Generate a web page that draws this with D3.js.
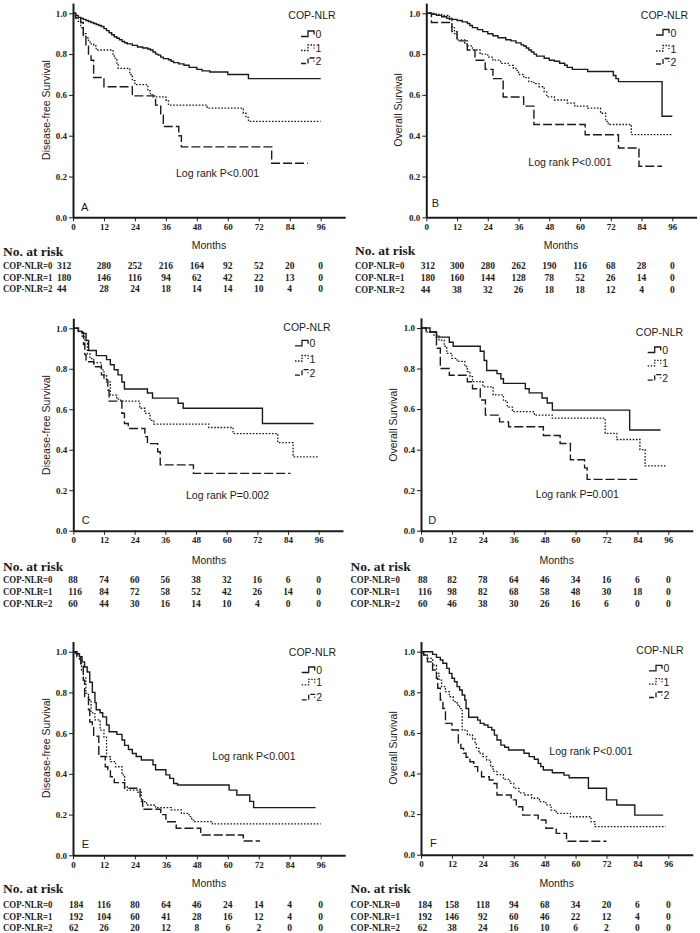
<!DOCTYPE html>
<html><head><meta charset="utf-8">
<script src="https://cdn.jsdelivr.net/npm/d3@7"></script>
<style>body{margin:0;background:#fff}svg{display:block}</style>
</head><body>
<svg id="chart" width="700" height="933"></svg>
<script>
// ---------- data ----------
const monthTicks = [0,12,24,36,48,60,72,84,96];
const survTicks = [0,0.2,0.4,0.6,0.8,1.0];
const groupLabels = ["0","1","2"];
const riskRowLabels = ["COP-NLR=0","COP-NLR=1","COP-NLR=2"];
const panelLetters = ["A","B","C","D","E","F"];
const yTitles = ["Disease-free Survival","Overall Survival","Disease-free Survival","Overall Survival","Disease-free Survival","Overall Survival"];
const pTexts = ["Log rank P<0.001","Log rank P<0.001","Log rank P=0.002","Log rank P=0.001","Log rank P<0.001","Log rank P<0.001"];

// Kaplan-Meier steps: [month, survival]
const survA0 = [[0,1],[1,0.99],[2,0.98],[3,0.975],[4,0.97],[5,0.965],[6,0.96],[7,0.955],[8,0.95],[9,0.945],[10,0.94],[11,0.935],[12,0.925],[13,0.915],[14,0.905],[15,0.895],[16,0.885],[17,0.878],[18,0.87],[19,0.862],[20,0.856],[21,0.85],[23,0.843],[25,0.835],[27,0.83],[29,0.825],[30,0.82],[31,0.81],[32,0.8],[33,0.795],[34,0.785],[35,0.778],[37,0.772],[38,0.765],[39,0.758],[41,0.752],[43,0.745],[45,0.735],[48,0.725],[50,0.718],[53,0.712],[60,0.7],[68,0.68],[96,0.68]];
const survA1 = [[0,1],[1,0.98],[2,0.96],[3,0.93],[4,0.9],[5,0.88],[6,0.86],[7,0.85],[8,0.84],[9,0.82],[15.5,0.8],[16,0.78],[17,0.75],[17.5,0.73],[22,0.7],[23,0.67],[24,0.65],[29,0.62],[30,0.6],[31,0.59],[36,0.575],[37,0.55],[52,0.535],[66,0.51],[67,0.49],[68,0.47],[96,0.47]];
const survA2 = [[0,1],[1,0.977],[3,0.955],[4,0.89],[5,0.84],[6,0.8],[7,0.77],[8,0.685],[12,0.64],[23,0.595],[32,0.55],[34,0.5],[35,0.445],[41,0.4],[42,0.345],[77,0.265],[91,0.265]];

const survB0 = [[0,1],[2,0.995],[4,0.99],[6,0.983],[8,0.975],[10,0.97],[12,0.965],[14,0.958],[16,0.95],[17,0.94],[18,0.93],[20,0.92],[22,0.91],[24,0.9],[26,0.89],[28,0.88],[31,0.87],[33,0.865],[35,0.855],[37,0.845],[38,0.84],[39,0.83],[40,0.82],[41,0.81],[42,0.8],[43,0.79],[46,0.78],[48,0.77],[50,0.765],[52,0.755],[54,0.745],[55,0.735],[57,0.725],[63,0.715],[73,0.695],[74,0.68],[75,0.665],[92,0.495],[96,0.495]];
const survB1 = [[0,1],[3,0.995],[6,0.99],[9,0.97],[10,0.93],[11,0.9],[12,0.87],[15,0.85],[16,0.84],[18,0.82],[21,0.8],[24,0.785],[26,0.77],[29,0.755],[32,0.745],[34,0.73],[35,0.72],[36,0.7],[38,0.685],[40,0.665],[42,0.655],[44,0.64],[46,0.615],[47,0.59],[50,0.575],[55,0.56],[58,0.545],[63,0.535],[68,0.51],[70,0.47],[71,0.455],[80,0.405],[96,0.405]];
const survB2 = [[0,1],[2,0.955],[10,0.91],[12,0.865],[16,0.82],[19,0.77],[23,0.725],[26,0.68],[30,0.59],[38,0.545],[42,0.455],[62,0.405],[75,0.34],[83,0.25],[92,0.25]];

const survC0 = [[0,1],[2,0.985],[3.5,0.975],[5,0.94],[6,0.89],[9,0.865],[13,0.845],[14.5,0.82],[16,0.795],[17.5,0.77],[19,0.735],[20,0.7],[29,0.68],[31,0.655],[41,0.63],[43,0.605],[74,0.53],[94,0.53]];
const survC1 = [[0,1],[2,0.985],[3.5,0.96],[4.5,0.925],[5.5,0.875],[6.5,0.85],[8,0.83],[11,0.795],[12,0.77],[13,0.735],[14.5,0.67],[17,0.65],[18.5,0.64],[26,0.605],[28,0.58],[30,0.545],[31.5,0.527],[53,0.51],[62.5,0.48],[80,0.435],[86,0.365],[96,0.365]];
const survC2 = [[0,1],[2,0.98],[4,0.92],[4.5,0.87],[5,0.835],[8,0.81],[11,0.77],[12,0.745],[13.5,0.695],[14,0.64],[19,0.58],[20,0.53],[21.5,0.505],[28,0.465],[29,0.43],[33,0.39],[34,0.325],[47,0.283],[85,0.283]];

const survD0 = [[0,1],[3.5,0.98],[6,0.955],[11,0.93],[12.5,0.91],[23,0.885],[24.5,0.84],[25.5,0.79],[29.5,0.775],[31,0.75],[32,0.727],[40.5,0.7],[42,0.68],[47,0.655],[49,0.63],[51,0.595],[81,0.497],[93,0.497]];
const survD1 = [[0,1],[2,0.98],[5,0.965],[7,0.94],[9,0.91],[10,0.875],[12,0.85],[14,0.835],[17,0.81],[18,0.785],[19,0.76],[20,0.735],[24,0.71],[28,0.67],[32,0.64],[33.5,0.61],[35.5,0.587],[44,0.57],[51,0.555],[71.5,0.48],[76,0.45],[85,0.4],[87,0.32],[95,0.32]];
const survD2 = [[0,1],[2,0.98],[6,0.9],[7.5,0.8],[11,0.767],[18,0.735],[20,0.7],[23,0.645],[25,0.57],[30.5,0.537],[34,0.513],[47.5,0.47],[54,0.43],[58,0.35],[63.5,0.31],[64.5,0.253],[84,0.253]];

const survE0 = [[0,1],[1.5,0.99],[2.5,0.975],[3.5,0.95],[4.5,0.925],[5.5,0.9],[6.5,0.85],[7.5,0.8],[8.5,0.75],[9,0.715],[10.5,0.7],[11.5,0.68],[13,0.64],[14,0.607],[17,0.594],[19,0.566],[20,0.54],[21.5,0.52],[23,0.5],[24.5,0.485],[26.5,0.468],[31,0.445],[32,0.42],[36,0.395],[37.5,0.378],[39,0.353],[40.5,0.345],[60.5,0.32],[63.5,0.296],[68.5,0.265],[70,0.234],[94,0.234]];
const survE1 = [[0,1],[1,0.985],[2.5,0.96],[3.3,0.91],[4,0.87],[5,0.795],[6,0.764],[7,0.7],[8.5,0.665],[10.5,0.615],[12,0.58],[13,0.485],[14.5,0.46],[16.5,0.435],[19,0.395],[20,0.337],[21,0.32],[25,0.31],[26.5,0.264],[28.5,0.247],[32,0.234],[38,0.223],[42,0.206],[45,0.19],[46,0.173],[47,0.165],[54,0.154],[96,0.154]];
const survE2 = [[0,1],[1.5,0.975],[3,0.94],[4,0.86],[4.5,0.78],[6,0.715],[6.5,0.655],[7.5,0.63],[8,0.585],[10,0.485],[12.5,0.435],[13.5,0.42],[14.5,0.386],[16,0.357],[20,0.329],[26,0.272],[27,0.226],[34,0.2],[36,0.165],[40,0.133],[49.5,0.1],[66,0.07],[72.5,0.07]];

const survF0 = [[0,1],[4.5,0.987],[6,0.972],[7.5,0.959],[8.5,0.943],[10,0.918],[11,0.893],[12,0.869],[13,0.852],[14,0.828],[15,0.811],[16,0.787],[17,0.762],[17.5,0.72],[18.5,0.677],[22,0.663],[23,0.647],[24.5,0.639],[26,0.627],[27.5,0.614],[28.5,0.589],[29.5,0.565],[31,0.54],[32.5,0.529],[34,0.516],[40,0.5],[42,0.483],[44,0.47],[45.5,0.45],[46.5,0.434],[47.5,0.417],[51,0.404],[55.5,0.392],[57.5,0.379],[65,0.327],[72,0.27],[76,0.245],[83,0.195],[94,0.195]];
const survF1 = [[0,1],[1,0.984],[2.5,0.967],[4.5,0.934],[6,0.893],[7,0.86],[8,0.828],[9.5,0.803],[11,0.778],[12.5,0.754],[14,0.737],[15,0.72],[16,0.614],[18,0.59],[20,0.57],[21,0.548],[21.5,0.524],[22.5,0.5],[24,0.483],[25.5,0.466],[27,0.434],[28,0.41],[29.5,0.394],[32,0.371],[34.5,0.351],[36,0.327],[38,0.305],[40,0.294],[43,0.278],[46,0.261],[48.5,0.245],[50.5,0.22],[52.5,0.204],[58,0.187],[66,0.163],[67.5,0.138],[95,0.138]];
const survF2 = [[0,1],[1,0.984],[2.5,0.95],[4.5,0.91],[6,0.869],[6.5,0.82],[7.5,0.762],[8.5,0.72],[9.5,0.647],[12,0.614],[14.5,0.55],[15.5,0.524],[16.5,0.5],[17.5,0.48],[19,0.458],[20.5,0.434],[22,0.41],[23.5,0.384],[26.5,0.368],[28,0.351],[29.5,0.294],[35,0.27],[37,0.236],[39.5,0.195],[45.5,0.171],[48.5,0.13],[52.5,0.105],[56.5,0.066],[72,0.066]];

// numbers at risk
const riskA0 = [312,280,252,216,164,92,52,20,0];
const riskA1 = [180,146,116,94,62,42,22,13,0];
const riskA2 = [44,28,24,18,14,14,10,4,0];
const riskB0 = [312,300,280,262,190,116,68,28,0];
const riskB1 = [180,160,144,128,78,52,26,14,0];
const riskB2 = [44,38,32,26,18,18,12,4,0];
const riskC0 = [88,74,60,56,38,32,16,6,0];
const riskC1 = [116,84,72,58,52,42,26,14,0];
const riskC2 = [60,44,30,16,14,10,4,0,0];
const riskD0 = [88,82,78,64,46,34,16,6,0];
const riskD1 = [116,98,82,68,58,48,30,18,0];
const riskD2 = [60,46,38,30,26,16,6,0,0];
const riskE0 = [184,116,80,64,46,24,14,4,0];
const riskE1 = [192,104,60,41,28,16,12,4,0];
const riskE2 = [62,26,20,12,8,6,2,0,0];
const riskF0 = [184,158,118,94,68,34,20,6,0];
const riskF1 = [192,146,92,60,46,22,12,4,0];
const riskF2 = [62,38,24,16,10,6,2,0,0];

// ---------- layout (positions only) ----------
const layouts = [
  {x0:73,  x96:320.7, y1:13.3,  y0:217.3, leg:{cx:312,  hy:15,    sx:301,   ly:[34,48,61]},
   p:{x:176,y:177}, let:{x:81,y:211}, yt:{x:45.7,y:110}, mon:{x:209,y:249},
   rk:{lx:3, fx:57, ty:255.5, ry:[269,280.5,292]}},
  {x0:426.3,x96:672.3,y1:13.3, y0:217.3, leg:{cx:664.5,hy:15,   sx:656,   ly:[32.5,48.5,61.5]},
   p:{x:528.3,y:165.5}, let:{x:431.7,y:206.5}, yt:{x:398,y:110}, mon:{x:561,y:249},
   rk:{lx:355, fx:420.7, ty:254.5, ry:[269.3,280.7,292.7]}},
  {x0:73.3,x96:318.7, y1:328.3, y0:530.7, leg:{cx:307,  hy:326.7, sx:295,   ly:[343.3,358.5,372.7]},
   p:{x:186,y:499}, let:{x:81.7,y:523.5}, yt:{x:45.7,y:425}, mon:{x:209,y:564},
   rk:{lx:3, fx:68.3, ty:571.3, ry:[583.3,595,607.3]}},
  {x0:421, x96:668.3, y1:328,   y0:530.7, leg:{cx:659.5,hy:331.7, sx:647.7, ly:[350,363.3,377.7]},
   p:{x:535.7,y:498}, let:{x:428.3,y:523.5}, yt:{x:392.7,y:425}, mon:{x:556.7,y:564},
   rk:{lx:350.5, fx:418, ty:571.3, ry:[583.3,595,607.3]}},
  {x0:73,  x96:320.7, y1:651.7, y0:855.3, leg:{cx:312.5,hy:651.7, sx:301.7, ly:[670,682.3,697.3]},
   p:{x:212.3,y:760}, let:{x:81.7,y:847.5}, yt:{x:45.7,y:748}, mon:{x:209,y:887},
   rk:{lx:3, fx:69, ty:893.3, ry:[908.3,919.7,931.3]}},
  {x0:421, x96:668.3, y1:651.7, y0:854.7, leg:{cx:660,  hy:650,   sx:649,   ly:[668.3,681.7,695]},
   p:{x:549.3,y:754.7}, let:{x:430,y:846.5}, yt:{x:392.7,y:748}, mon:{x:556.7,y:887},
   rk:{lx:350.5, fx:417.7, ty:893.3, ry:[908.3,919.7,931.3]}}
];

const curves = [
  [survA0,survA1,survA2],[survB0,survB1,survB2],[survC0,survC1,survC2],
  [survD0,survD1,survD2],[survE0,survE1,survE2],[survF0,survF1,survF2]
];
const risks = [
  [riskA0,riskA1,riskA2],[riskB0,riskB1,riskB2],[riskC0,riskC1,riskC2],
  [riskD0,riskD1,riskD2],[riskE0,riskE1,riskE2],[riskF0,riskF1,riskF2]
];

const ink = "#1b1b1b";
const dashes = [null, "1.6,1.6", "9,3"];
const sans = "'Liberation Sans', Arial, sans-serif";
const serif = "'Liberation Serif', 'Times New Roman', serif";

const svg = d3.select("#chart");

layouts.forEach((L, i) => {
  const g = svg.append("g");
  const xMax = 105.5;
  const x = d3.scaleLinear().domain([0, xMax]).range([L.x0, L.x0 + (L.x96 - L.x0) * xMax / 96]);
  const y = d3.scaleLinear().domain([0, 1.05]).range([L.y0, L.y0 - (L.y0 - L.y1) * 1.05]);

  // axes
  const xa = g.append("g").attr("transform", `translate(0,${L.y0})`)
    .call(d3.axisBottom(x).tickValues(monthTicks).tickSize(4).tickSizeOuter(0).tickPadding(2));
  const ya = g.append("g").attr("transform", `translate(${L.x0},0)`)
    .call(d3.axisLeft(y).tickValues(survTicks).tickFormat(d3.format(".1f")).tickSize(4).tickSizeOuter(0).tickPadding(2));
  [xa, ya].forEach(a => {
    a.select(".domain").attr("stroke", ink).attr("stroke-width", 2);
    a.selectAll(".tick line").attr("stroke", ink).attr("stroke-width", 1);
    a.selectAll(".tick text").attr("fill", ink).style("font-family", serif)
      .style("font-weight", "bold").style("font-size", "9px");
  });

  // curves
  const line = d3.line().x(d => x(d[0])).y(d => y(d[1])).curve(d3.curveStepAfter);
  curves[i].forEach((c, k) => {
    g.append("path").datum(c).attr("d", line).attr("fill", "none")
      .attr("stroke", ink).attr("stroke-width", k === 1 ? 1.3 : 1.4)
      .attr("stroke-dasharray", dashes[k]);
  });

  // y title
  g.append("text").attr("transform", `translate(${L.yt.x},${L.yt.y}) rotate(-90)`)
    .attr("text-anchor", "middle").attr("dominant-baseline", "central")
    .style("font-family", sans).style("font-size", "10.5px").attr("fill", ink)
    .text(yTitles[i]);
  // months
  g.append("text").attr("x", L.mon.x).attr("y", L.mon.y).attr("text-anchor", "middle")
    .style("font-family", sans).style("font-size", "10.5px").attr("fill", ink).text("Months");
  // p value
  g.append("text").attr("x", L.p.x).attr("y", L.p.y)
    .style("font-family", sans).style("font-size", "10.5px").attr("fill", ink).text(pTexts[i]);
  // panel letter
  g.append("text").attr("x", L.let.x).attr("y", L.let.y)
    .style("font-family", sans).style("font-size", "11px").attr("fill", ink).text(panelLetters[i]);

  // legend
  g.append("text").attr("x", L.leg.cx).attr("y", L.leg.hy).attr("text-anchor", "middle")
    .attr("dominant-baseline", "central")
    .style("font-family", sans).style("font-size", "10.5px").attr("fill", ink).text("COP-NLR");
  groupLabels.forEach((lab, k) => {
    const ly = L.leg.ly[k], sx = L.leg.sx;
    g.append("path")
      .attr("d", `M${sx},${ly + 2.5}H${sx + 7}V${ly - 3}H${sx + 13}V${ly + 0.5}`)
      .attr("fill", "none").attr("stroke", ink).attr("stroke-width", 1.3)
      .attr("stroke-dasharray", k === 0 ? null : (k === 1 ? "1.5,1.5" : "5,2"));
    g.append("text").attr("x", sx + 14.5).attr("y", ly).attr("dominant-baseline", "central")
      .style("font-family", sans).style("font-size", "10.5px").attr("fill", ink).text(lab);
  });

  // risk table
  g.append("text").attr("x", L.rk.lx).attr("y", L.rk.ty)
    .style("font-family", serif).style("font-weight", "bold").style("font-size", "13.5px")
    .attr("fill", ink).text("No. at risk");
  risks[i].forEach((row, k) => {
    const ry = L.rk.ry[k];
    g.append("text").attr("x", L.rk.lx).attr("y", ry)
      .attr("textLength", 49.5).attr("lengthAdjust", "spacingAndGlyphs")
      .style("font-family", serif).style("font-weight", "bold").style("font-size", "9.5px")
      .attr("fill", ink).text(riskRowLabels[k]);
    row.forEach((v, j) => {
      const first = j === 0;
      g.append("text").attr("x", first ? L.rk.fx : x(monthTicks[j])).attr("y", ry)
        .attr("text-anchor", first ? "start" : "middle")
        .style("font-family", serif).style("font-weight", "bold").style("font-size", "9.5px")
        .attr("fill", ink).text(v);
    });
  });
});
</script>
</body></html>
